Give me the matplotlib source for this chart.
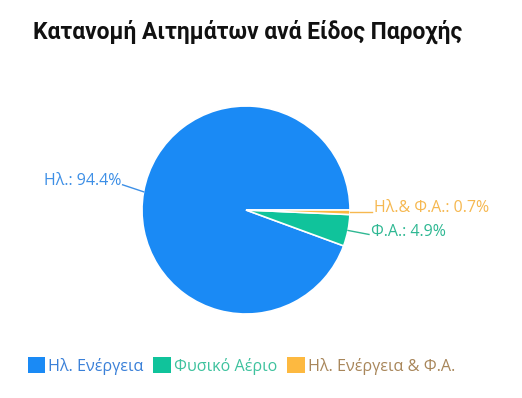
import numpy as np
import matplotlib.pyplot as plt
from matplotlib.patches import Patch

# data
labels_short = ["Ηλ.", "Φ.Α.", "Ηλ.& Φ.Α."]
legend_labels = ["Ηλ. Ενέργεια", "Φυσικό Αέριο", "Ηλ. Ενέργεια & Φ.Α."]
values = [94.4, 4.9, 0.7]
colors = ["#1a8af5", "#10c39b", "#fdb940"]
label_colors = ["#3d8fe6", "#2fb893", "#f6b850"]
legend_text_colors = ["#3a80d8", "#3fc29e", "#a8865a"]

W, H = 522, 398
fig = plt.figure(figsize=(W / 100, H / 100), dpi=100)
ax = fig.add_axes([0, 0, 1, 1])

cx, cy, r = 246, H - 210, 104
wedges, _ = ax.pie(values, colors=colors, startangle=0, counterclock=True,
                   center=(cx, cy), radius=r,
                   wedgeprops=dict(edgecolor="white", linewidth=1.2))
ax.set_xlim(0, W)
ax.set_ylim(0, H)
ax.set_aspect("equal")
ax.axis("off")

fig.text(33 / W, 1 - 32 / H, "Κατανομή Αιτημάτων ανά Είδος Παροχής",
         fontsize=16.4, fontweight="bold", family="Roboto", va="center", color="#111111")

# labels with leader lines
offsets = [(-21, 7), (21, -4), (22, 0)]
text_dy = [4, 2, 4]
for w, lab, val, c, off, dy in zip(wedges, labels_short, values, label_colors, offsets, text_dy):
    ang = np.deg2rad((w.theta1 + w.theta2) / 2)
    x0, y0 = cx + r * np.cos(ang), cy + r * np.sin(ang)
    x1, y1 = x0 + off[0], y0 + off[1]
    ax.plot([x0, x1], [y0, y1], color=c, lw=1)
    ha = "right" if off[0] < 0 else "left"
    ax.text(x1 + (2 if ha == "left" else -1), y1 + dy, f"{lab}: {val}%", color=c,
            fontsize=11.5, family="Open Sans", ha=ha, va="center")

handles = [Patch(facecolor=c, edgecolor="none") for c in colors]
leg = ax.legend(handles, legend_labels, loc="center left", bbox_to_anchor=(13 / W, 1 - 366 / H),
                bbox_transform=fig.transFigure, ncol=3, frameon=False,
                prop={"family": "Open Sans", "size": 11.6},
                handlelength=1.1, handleheight=1.1, handletextpad=0.2, columnspacing=0.6,
                labelcolor=legend_text_colors)

fig.savefig("out.png", dpi=100)
